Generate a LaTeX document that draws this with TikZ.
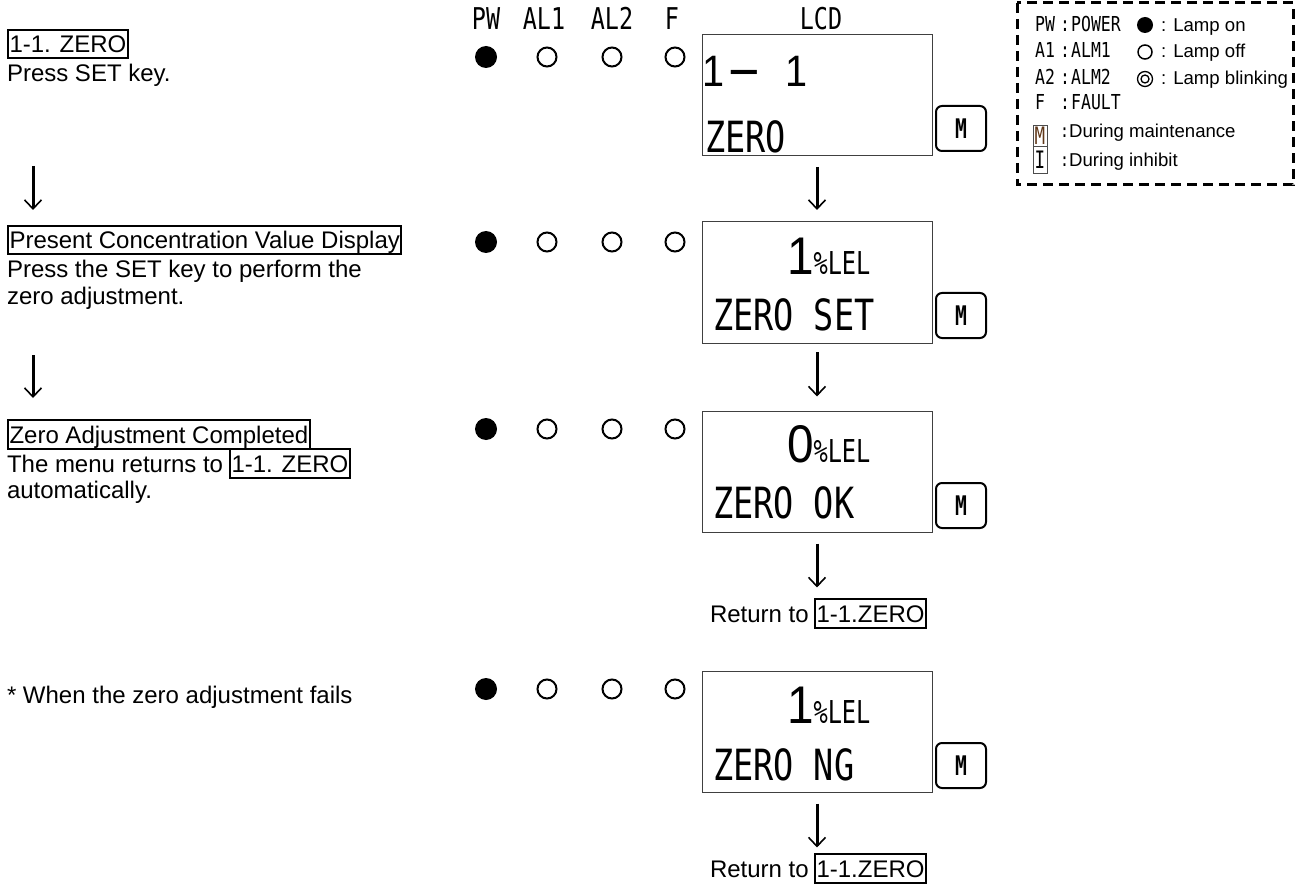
\documentclass[tikz,border=0pt]{standalone}
\usepackage{fontspec}
\usepackage{graphicx}
\setmainfont{Liberation Sans}
\newfontfamily\lcd[FakeStretch=0.78]{DejaVu Sans Mono}
\newfontfamily\lcdnum[FakeStretch=0.9]{Liberation Sans}
\newfontfamily\lcdpct[FakeStretch=0.75]{DejaVu Sans Mono}
\newfontfamily\mfont[FakeStretch=0.73]{DejaVu Sans Mono}
\newfontfamily\lgd[FakeStretch=0.8]{DejaVu Sans Mono}
\usetikzlibrary{arrows.meta}
\definecolor{mbrown}{RGB}{95,55,25}
\tikzset{
 lt/.style={anchor=base west, inner sep=0pt, outer sep=0pt, font=\fontsize{24}{27}\selectfont},
 bx/.style={lt, draw, line width=2pt, inner xsep=1.5pt, inner ysep=5.5pt, text height=17.2pt, text depth=0pt},
 lcdbox/.style={draw=black!75, line width=1pt, minimum width=230pt, minimum height=121pt, inner sep=0pt, outer sep=0pt},
 lcdt/.style={anchor=base west, inner sep=0pt, outer sep=0pt},
 big/.style={lcdt, font=\lcd\fontsize{43}{43}\selectfont},
 mkey/.style={draw, line width=2pt, rounded corners=6pt, minimum width=50pt, minimum height=45pt, inner sep=0pt, font=\mfont\bfseries\fontsize{27}{27}\selectfont},
 lampon/.style={circle, fill, minimum size=22pt, inner sep=0pt},
 lampoff/.style={circle, draw, line width=2pt, minimum size=19pt, inner sep=0pt},
 hdr/.style={anchor=base, inner sep=0pt, font=\lcd\fontsize{30}{30}\selectfont},
 flow/.style={line width=3pt, -{Straight Barb[length=9pt,width=17pt,line width=1.6pt]}},
 lg/.style={anchor=base west, inner sep=0pt, font=\lgd\fontsize{20.6}{20.6}\selectfont},
 lgt/.style={anchor=base west, inner sep=0pt, font=\fontsize{18.6}{22}\selectfont},
 lgbox/.style={draw=black!70, line width=0.8pt, minimum width=14pt, inner sep=0pt, font=\mfont\fontsize{24}{24}\selectfont},
}
\begin{document}
\begin{tikzpicture}[x=1pt,y=-1pt]
\useasboundingbox (0,0) rectangle (1306,885);

% ---------- left column ----------
\node[bx] (l1) at (8,53) {1-1. ZERO};
\node[lt] (l1b) at (7,82) {Press SET key.};
\coordinate (la1) at (33,166);
\coordinate (la1e) at (33,210);
\draw[flow] (la1) -- (la1e);
\node[bx] (l2) at (8,249) {Present Concentration Value Display};
\node[lt] (l2b) at (7,278) {Press the SET key to perform the};
\node[lt] (l2c) at (7,305) {zero adjustment.};
\coordinate (la2) at (33,355);
\coordinate (la2e) at (33,398);
\draw[flow] (la2) -- (la2e);
\node[bx] (l3) at (8,443) {Zero Adjustment Completed};
\node[lt] (l3b) at (7,472) {The menu returns to};
\node[bx] (l3c) at (230,472) {1-1. ZERO};
\node[lt] (l3d) at (7,498) {automatically.};
\node[lt] (l4) at (7,703) {* When the zero adjustment fails};

% ---------- headers ----------
\node[hdr] (hpw) at (486,30) {PW};
\node[hdr] (ha1) at (544,30) {AL1};
\node[hdr] (ha2) at (612,30) {AL2};
\node[hdr] (hf) at (672,30) {F};
\node[hdr] (hl) at (821,30) {LCD};

% ---------- lamps ----------
\foreach \r/\y in {1/57,2/242,3/429,4/689}{
  \node[lampon] (pw\r) at (486,\y) {};
  \node[lampoff] (al1\r) at (547,\y) {};
  \node[lampoff] (al2\r) at (612,\y) {};
  \node[lampoff] (f\r) at (675,\y) {};
}

% ---------- LCD boxes ----------
\node[lcdbox] (b1) at (817,95.5) {};
\node[lcdbox] (b2) at (817,282.5) {};
\node[lcdbox] (b3) at (817,472) {};
\node[lcdbox] (b4) at (817,732) {};

\node[lcdt, font=\lcdnum\fontsize{44}{44}\selectfont] (t1a) at (702,87) {1\kern2pt\scalebox{2.7}[1.2]{-}\kern24pt 1};
\node[big] (t1b) at (705,153) {ZERO};

\node[lcdt] (t2a) at (787,275) {{\lcdnum\fontsize{53}{53}\selectfont 1}{\lcdpct\fontsize{31.5}{31.5}\selectfont\%LEL}};
\node[big] (t2b) at (713,330) {ZERO SET};

\node[lcdt] (t3a) at (787,462) {{\lcdnum\fontsize{53}{53}\selectfont 0}{\lcdpct\fontsize{31.5}{31.5}\selectfont\%LEL}};
\node[big] (t3b) at (713,518) {ZERO OK};

\node[lcdt] (t4a) at (787,723) {{\lcdnum\fontsize{53}{53}\selectfont 1}{\lcdpct\fontsize{31.5}{31.5}\selectfont\%LEL}};
\node[big] (t4b) at (713,780) {ZERO NG};

% ---------- M keys ----------
\node[mkey] (m1) at (961,128.5) {M};
\node[mkey] (m2) at (961,315.5) {M};
\node[mkey] (m3) at (961,505.5) {M};
\node[mkey] (m4) at (961,765.5) {M};

% ---------- returns ----------
\node[lt] (r1) at (710,622) {Return to};
\node[bx] (r1b) at (815,622) {1-1.ZERO};
\node[lt] (r2) at (710,877) {Return to};
\node[bx] (r2b) at (815,877) {1-1.ZERO};

% ---------- arrows ----------
\draw[flow, shorten <=11pt, shorten >=12pt] (b1.south) -- (b2.north);
\draw[flow, shorten <=9pt, shorten >=15pt] (b2.south) -- (b3.north);
\draw[flow, shorten <=11pt, shorten >=18pt] (b3.south) -- (b3.south |- r1.north);
\draw[flow, shorten <=11pt, shorten >=13pt] (b4.south) -- (b4.south |- r2.north);

% ---------- legend ----------
\draw[line width=3pt, dash pattern=on 10pt off 6pt] (1017,3) rectangle (1293,185);
\node[lg] (g1) at (1035,32) {\makebox[24pt][l]{PW}\makebox[12pt][c]{:}POWER};
\node[lg] (g2) at (1035,58) {\makebox[24pt][l]{A1}\makebox[12pt][c]{:}ALM1};
\node[lg] (g3) at (1035,85) {\makebox[24pt][l]{A2}\makebox[12pt][c]{:}ALM2};
\node[lg] (g4) at (1035,110) {\makebox[24pt][l]{F}\makebox[12pt][c]{:}FAULT};
\node[circle, fill, minimum size=16pt, inner sep=0pt] (s1) at (1145,25) {};
\node[circle, draw, line width=1.5pt, minimum size=14pt, inner sep=0pt] (s2) at (1145,52) {};
\node[circle, draw, line width=1.3pt, minimum size=15pt, inner sep=0pt] (s3) at (1145,79) {};
\node[circle, draw, line width=1.3pt, minimum size=8pt, inner sep=0pt] (s3i) at (1145,79) {};
\node[lgt] (g1t) at (1161,32) {: Lamp on};
\node[lgt] (g2t) at (1161,58) {: Lamp off};
\node[lgt] (g3t) at (1161,85) {: Lamp blinking};
\node[lgbox, minimum height=21pt, text=mbrown] (gm) at (1040,135.5) {M};
\node[lgbox, minimum height=27pt] (gi) at (1040,159.5) {I};
\node[lgt] (g5) at (1060,138) {{\lgd :}During maintenance};
\node[lgt] (g6) at (1060,167) {{\lgd :}During inhibit};
\end{tikzpicture}
\end{document}
